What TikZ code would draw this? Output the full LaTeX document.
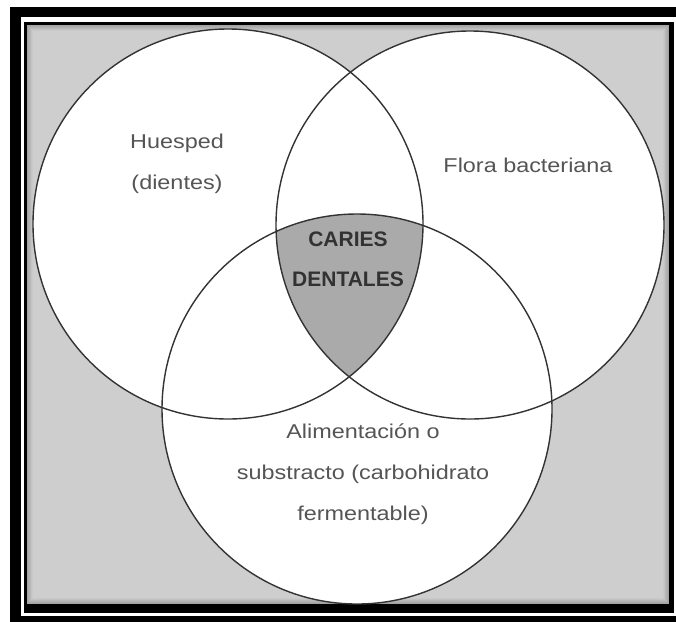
\documentclass[tikz,border=0pt]{standalone}
\usepackage{fontspec}
\newfontfamily\vennfont[FakeStretch=1.17]{Liberation Sans}
\newfontfamily\corefont{Liberation Sans}
\definecolor{bggray}{RGB}{206,206,206}
\definecolor{coregray}{RGB}{170,170,170}
\definecolor{inkgray}{RGB}{85,85,85}
\definecolor{coreink}{RGB}{50,50,50}
\usetikzlibrary{positioning}

\begin{document}
\begin{tikzpicture}[x=1pt, y=-1pt,
  venn/.style={draw=black!80, line width=1.4pt},
  venntext/.style={font=\vennfont\fontsize{20}{41}\selectfont, text=inkgray, align=center},
  coretext/.style={font=\corefont\bfseries\fontsize{21}{40}\selectfont, text=coreink, align=center}]

  \useasboundingbox (0,0) rectangle (676,621);
  \clip (0,0) rectangle (676,621);

  %% ===== FRAME =====
  \fill[white] (0,0) rectangle (676,621);
  \fill[black] (10,7) rectangle (690,640);
  \fill[white] (21,17) rectangle (677,616);
  \fill[black] (24,22) rectangle (674,613);
  \fill[bggray] (27,25) rectangle (669,604);

  % soft inner shadow along the frame
  \foreach \i in {0,...,5}{
    \pgfmathsetmacro\shade{36-3*\i}
    \draw[black!\shade, line width=1pt]
      (27.5+\i,25.5+\i) rectangle (668.5-\i,603.5-\i);
  }

  %% ===== CIRCLES =====
  \coordinate (host) at (228,224);
  \coordinate (flora) at (470,225);
  \coordinate (food) at (357,409);

  \fill[white] (host) circle (195);
  \fill[white] (flora) circle (194);
  \fill[white] (food) circle (195);

  % Triple overlap
  \begin{scope}
    \clip (host) circle (195);
    \clip (flora) circle (194);
    \fill[coregray] (food) circle (195);
  \end{scope}

  \draw[venn] (host) circle (195);
  \draw[venn] (flora) circle (194);
  \draw[venn] (food) circle (195);

  %% ===== LABELS =====
  \node[venntext] (hostlabel) at (177,164) {Huesped\\(dientes)};
  \node[venntext] (floralabel) at (528,165) {Flora bacteriana};
  \node[venntext] (foodlabel) at (363,474)
    {Alimentación o\\substracto (carbohidrato\\fermentable)};
  \node[coretext] (corelabel) at (348,259) {CARIES\\DENTALES};

\end{tikzpicture}
\end{document}
